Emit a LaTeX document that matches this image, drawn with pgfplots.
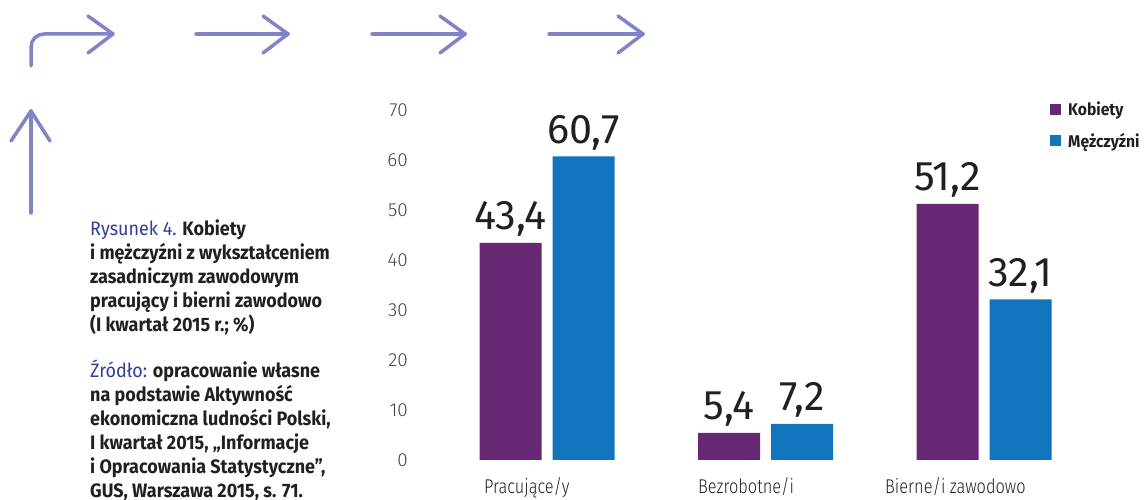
\documentclass[border=0pt]{standalone}
\usepackage{fontspec}
\setmainfont{Fira Sans}[FakeStretch=0.925]
\newfontfamily\valf{Fira Sans}
\newfontfamily\tickf{Fira Sans Light}
\newfontfamily\catf{Fira Sans Light}[FakeStretch=0.82]
\usepackage{pgfplots}
\pgfplotsset{compat=1.18}

\definecolor{kob}{HTML}{662873}
\definecolor{mez}{HTML}{1174BC}
\definecolor{arr}{HTML}{7F84C8}
\definecolor{capblue}{HTML}{2E3F94}
\definecolor{txt}{HTML}{231F20}

\pgfplotsset{
  sq legend/.style={legend image code/.code={\fill[##1] (0bp,-5.5bp) rectangle (11bp,5.5bp);}}
}

\begin{document}
\begin{tikzpicture}[x=1bp,y=1bp]
\useasboundingbox (0,0) rectangle (1146,500);
\clip (0,0) rectangle (1146,500);

% decorative arrows
\begin{scope}[draw=arr, line width=3.5bp, line cap=round, line join=round]
  \draw[rounded corners=13bp] (31,434) -- (31,466) -- (113,466);
  \draw (88,484) -- (113,466) -- (88,447);
  \draw (196,466) -- (288,466);
  \draw (263,484) -- (288,466) -- (263,447);
  \draw (372,466) -- (465,466);
  \draw (440,484) -- (465,466) -- (440,447);
  \draw (549,466) -- (643,466);
  \draw (618,484) -- (643,466) -- (618,447);
  \draw (31,287) -- (31,389);
  \draw (11,359) -- (31,389) -- (50,359);
\end{scope}

% caption
\begin{scope}[every node/.style={anchor=base west, inner sep=0pt, text=txt,
    font=\bfseries\fontsize{19.5}{22}\selectfont}]
  \node at (90,264) {{\mdseries\color{capblue}Rysunek 4.} Kobiety};
  \node at (90,240) {i mężczyźni z wykształceniem};
  \node at (90,216) {zasadniczym zawodowym};
  \node at (90,192) {pracujący i bierni zawodowo};
  \node at (90,168) {(I kwartał 2015 r.; \%)};
  \node at (90,122) {{\mdseries\color{capblue}Źródło:} opracowanie własne};
  \node at (90,98) {na podstawie Aktywność};
  \node at (90,74) {ekonomiczna ludności Polski,};
  \node at (90,50) {I kwartał 2015, „Informacje};
  \node at (90,26) {i Opracowania Statystyczne”,};
  \node at (90,2) {GUS, Warszawa 2015, s. 71.};
\end{scope}

\begin{axis}[
  at={(416bp,40bp)}, anchor=south west,
  scale only axis, width=644.575bp, height=350bp,
  xmin=-0.6, xmax=2.35, ymin=0, ymax=70,
  ybar=11bp, bar width=62bp,
  axis line style={draw=none},
  major tick length=0pt,
  xtick=\empty,
  ytick={0,10,...,70},
  /pgf/number format/assume math mode=true,
  yticklabel style={font=\tickf\fontsize{19}{19}\selectfont, text=txt!85,
    inner sep=0pt, xshift=-8bp},
  nodes near coords={\pgfmathprintnumber[use comma,fixed,fixed zerofill,precision=1]{\pgfplotspointmeta}},
  every node near coord/.append style={font=\valf\fontsize{41.5}{41.5}\selectfont,
    text=txt, inner sep=0pt, yshift=6bp},
  legend style={at={(0.9836,1.03)}, anchor=north west, draw=none, fill=none,
    inner sep=0pt, row sep=12bp, column sep=5bp,
    font=\bfseries\fontsize{17}{17}\selectfont, text=txt,
    nodes={inner sep=2bp}},
  legend cell align=left,
  clip=false,
]
\addplot[fill=kob, draw=none, sq legend] coordinates {(0,43.4) (1,5.4) (2,51.2)};
\addlegendentry{Kobiety}
\addplot[fill=mez, draw=none, sq legend] coordinates {(0,60.7) (1,7.2) (2,32.1)};
\addlegendentry{Mężczyźni}
\end{axis}

% category labels
\begin{scope}[every node/.style={anchor=base west, inner sep=0pt, text=txt,
    font=\catf\fontsize{20}{20}\selectfont}]
  \node at (484,6.5) {Pracujące/y};
  \node at (698,6.5) {Bezrobotne/i};
  \node at (885,6.5) {Bierne/i zawodowo};
\end{scope}
\end{tikzpicture}
\end{document}
